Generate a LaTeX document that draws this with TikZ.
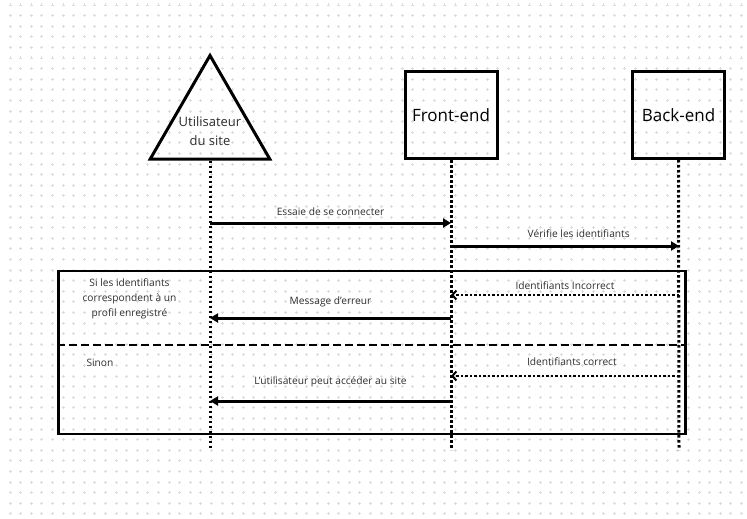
\documentclass[tikz,border=0pt]{standalone}
\usepackage{fontspec}
\setmainfont{Open Sans}
\usetikzlibrary{arrows.meta,positioning,shapes.geometric}
\definecolor{gridgray}{RGB}{220,220,220}
\definecolor{labelgray}{RGB}{45,45,45}
\tikzset{
  actorbox/.style={draw,line width=3pt,minimum width=92pt,minimum height=87pt,
                   font=\fontsize{17}{20}\selectfont},
  usertri/.style={draw,regular polygon,regular polygon sides=3,line width=3pt,
                  minimum size=138pt,inner sep=0pt},
  lifeline/.style={line width=3pt,dash pattern=on 2.5pt off 2.5pt},
  msg/.style={-{Triangle[length=8pt,width=9pt]},line width=3pt},
  reply/.style={-{Straight Barb[length=4pt,width=9pt,line width=2pt]},
                line width=2.5pt,dash pattern=on 2.5pt off 2pt},
  lbl/.style={font=\fontsize{10.2}{12}\selectfont,text=labelgray,inner sep=0pt,anchor=base},
  altbox/.style={draw,line width=2.5pt,minimum width=627pt,minimum height=163pt},
  splitline/.style={line width=2.5pt,dash pattern=on 8pt off 4pt},
}
\begin{document}
\begin{tikzpicture}[x=1pt,y=-1pt]
  \useasboundingbox (0,0) rectangle (747,519);
  % background grid
  \foreach \i in {0,...,70}
    \foreach \j in {0,...,48}
      \draw[gridgray,line width=0.8pt]
        ({8.5+10.6*\i},{5+10.6*\j}) -- ++(3,0)
        ({10+10.6*\i},{3.5+10.6*\j}) -- ++(0,3);

  % actors
  \node[usertri] (user) at (210,124.5) {};
  \node[align=center,font=\fontsize{13}{19}\selectfont,text=labelgray] (usertxt) at (210,131) {Utilisateur\\du site};
  \node[actorbox] (front) at (451,115) {Front-end};
  \node[actorbox] (back) at (678.5,115) {Back-end};

  % lifelines
  \coordinate (uend) at (210,450);
  \coordinate (fend) at (451,450);
  \coordinate (bend) at (679,450);
  \draw[lifeline] (user.south) -- (uend);
  \draw[lifeline] (front.south) -- (fend);
  \draw[lifeline] (back.south) -- (bend);

  % alternative frame
  \node[altbox] (alt) at (372,352.5) {};
  \coordinate (altl) at (alt.west |- 0,345);
  \coordinate (altr) at (alt.east |- 0,345);
  \draw[splitline] (altl) -- (altr);
  \node[align=center,font=\fontsize{10.2}{15}\selectfont,text=labelgray] (cond) at (129.5,298.5)
    {Si les identifiants\\correspondent à un\\profil enregistré};
  \node[font=\fontsize{10.2}{12}\selectfont,text=labelgray,anchor=base west] (sinon) at (83,366) {Sinon};

  % message points
  \coordinate (u1) at (210,223); \coordinate (f1) at (451,223);
  \coordinate (f2) at (451,246); \coordinate (b2) at (679,246);
  \coordinate (b3) at (679,295); \coordinate (f3) at (451,295);
  \coordinate (f4) at (451,318); \coordinate (u4) at (210,318);
  \coordinate (b5) at (679,376); \coordinate (f5) at (451,376);
  \coordinate (f6) at (451,401); \coordinate (u6) at (210,401);

  % messages
  \draw[msg] (u1) -- (f1) node[lbl,midway,yshift=8pt] {Essaie de se connecter};
  \draw[msg] (f2) -- (b2) node[lbl,pos=0.56,yshift=8.5pt] {Vérifie les identifiants};
  \draw[reply] (b3) -- (f3) node[lbl,midway,yshift=6pt] {Identifiants Incorrect};
  \draw[msg] (f4) -- (u4) node[lbl,midway,yshift=13.5pt] {Message d'erreur};
  \draw[reply] (b5) -- (f5) node[lbl,pos=0.47,yshift=11pt] {Identifiants correct};
  \draw[msg] (f6) -- (u6) node[lbl,midway,yshift=17pt] {L'utilisateur peut accéder au site};
\end{tikzpicture}
\end{document}
